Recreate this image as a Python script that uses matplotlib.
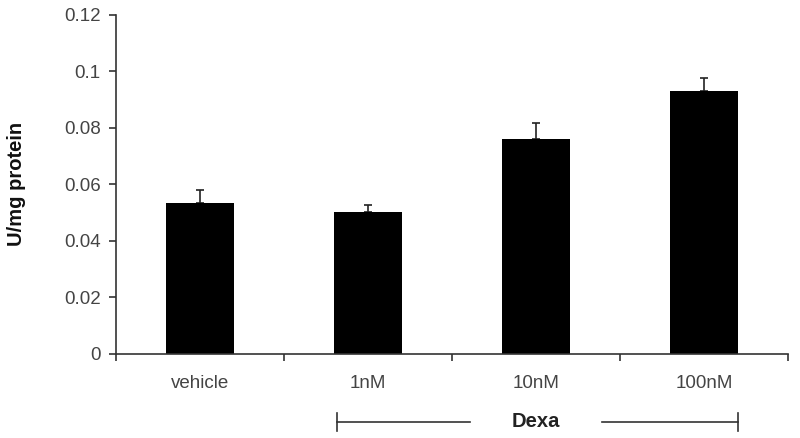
import matplotlib
matplotlib.use("Agg")
import matplotlib.pyplot as plt
import numpy as np

categories = ["vehicle", "1nM", "10nM", "100nM"]
values = [0.0533, 0.0504, 0.0762, 0.0930]
errors = [0.0047, 0.0023, 0.0056, 0.0047]
yticks = [0, 0.02, 0.04, 0.06, 0.08, 0.1, 0.12]
ytick_labels = ["0", "0.02", "0.04", "0.06", "0.08", "0.1", "0.12"]

plt.rcParams["font.family"] = ["Liberation Sans", "DejaVu Sans"]

fig = plt.figure(figsize=(8, 4.38), dpi=100)
ax = fig.add_axes([0.145, 0.192, 0.84, 0.774])

x = np.arange(len(categories))
ax.bar(x, values, width=0.4, color="black", zorder=2)
ax.errorbar(x, values, yerr=[np.zeros(len(errors)), errors], fmt="none",
            ecolor="#222222", elinewidth=1.2, capsize=3, capthick=1.2, zorder=1)

ax.set_xlim(-0.5, len(categories) - 0.5)
ax.set_ylim(0, 0.12)
ax.set_yticks(yticks)
ax.set_yticklabels(ytick_labels)
ax.set_xticks(x)
ax.set_xticklabels(categories)
ax.set_xticks(np.arange(-0.5, len(categories)), minor=True)

for side in ("top", "right"):
    ax.spines[side].set_visible(False)
for side in ("left", "bottom"):
    ax.spines[side].set_color("#333333")
    ax.spines[side].set_linewidth(1.2)

ax.tick_params(axis="y", direction="out", length=5, width=1.2, color="#333333",
               labelsize=13.5, labelcolor="#444444", pad=6)
ax.tick_params(axis="x", which="major", length=0, labelsize=13.5,
               labelcolor="#444444", pad=15)
ax.tick_params(axis="x", which="minor", direction="out", length=5, width=1.2,
               color="#333333")

ax.set_ylabel("U/mg protein", fontsize=14.5, fontweight="bold", labelpad=27,
              color="#111111")

# Dexa bracket under the three treated groups
tr = ax.get_xaxis_transform()
lc = "#333333"
ax.plot([0.815, 1.607], [-0.2, -0.2], color=lc, lw=1.2, transform=tr, clip_on=False)
ax.plot([2.393, 3.20], [-0.2, -0.2], color=lc, lw=1.2, transform=tr, clip_on=False)
ax.plot([0.815, 0.815], [-0.174, -0.226], color=lc, lw=1.2, transform=tr, clip_on=False)
ax.plot([3.20, 3.20], [-0.174, -0.226], color=lc, lw=1.2, transform=tr, clip_on=False)
ax.text(2.0, -0.2, "Dexa", transform=tr, ha="center", va="center",
        fontsize=14.5, fontweight="bold", color="#222222")

fig.savefig("out.png", dpi=100)
